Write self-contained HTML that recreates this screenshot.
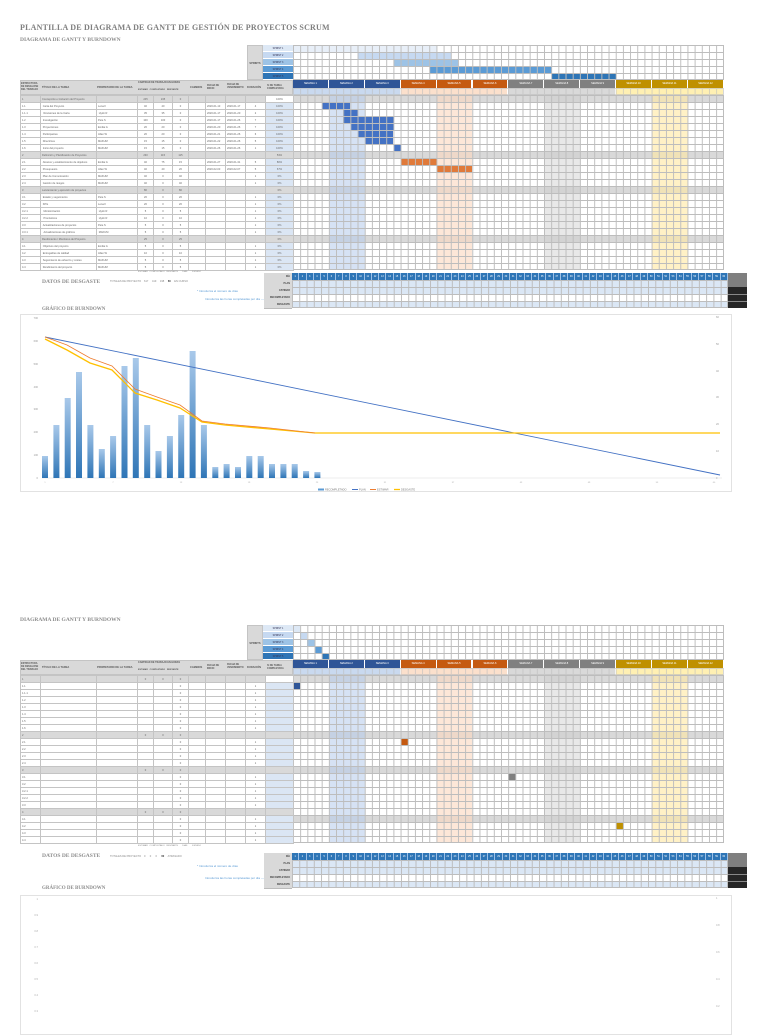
<!DOCTYPE html>
<html><head><meta charset="utf-8">
<style>
*{margin:0;padding:0;box-sizing:border-box}
body{width:768px;height:1024px;background:#fff;position:relative;overflow:hidden;font-family:"Liberation Sans",sans-serif;color:#555}
.abs{position:absolute}
.t1{font-family:"Liberation Serif",serif;font-weight:bold;color:#7f7f7f;font-size:8px;letter-spacing:.2px}
.t2{font-family:"Liberation Serif",serif;font-weight:bold;color:#8c8c8c;font-size:5.5px}
.grid{position:absolute;background-image:linear-gradient(to right,#bdbdbd 1px,transparent 1px),linear-gradient(to bottom,#bdbdbd 1px,transparent 1px);background-size:7.183px 7px;border-right:1px solid #bdbdbd;border-bottom:1px solid #bdbdbd}
table.lt{position:absolute;border-collapse:collapse;table-layout:fixed;font-size:2.6px;color:#666}
table.lt td{border:1px solid #c4c4c4;height:7px;padding:0 1px;white-space:nowrap;overflow:hidden;line-height:5px}
table.lt tr.s td{background:#d9d9d9}
table.lt td.p{background:#dbe6f4;text-align:center}
table.lt td.c{text-align:center}
.hdr{position:absolute;background:#d9d9d9;border:1px solid #c4c4c4;font-size:2.6px;color:#555;font-weight:bold}
.wk{position:absolute;height:8px;font-size:2.6px;color:#fff;text-align:center;line-height:8px;border-right:1px solid #fff}
.dy{position:absolute;height:7px;border-right:1px solid #fff}
.bar{position:absolute;height:7px}
.sh{position:absolute}
.spl{position:absolute;width:30px;height:7px;font-size:2.4px;text-align:center;line-height:7px;color:#335;border-bottom:1px solid #fff}
.dt{position:absolute;display:flex;height:7px}
.dt span{flex:1;font-size:2.4px;color:#fff;text-align:center;line-height:7px;border-right:1px solid #9cc0e8}
.lbl{position:absolute;background:#d9d9d9;font-size:2.4px;text-align:right;padding-right:2px;line-height:7px;color:#444;font-weight:bold;border-bottom:1px solid #bbb}
.note{position:absolute;font-size:3px;color:#5b9bd5}
</style></head><body>

<!-- ============ PAGE 1 ============ -->
<div class="abs t1" style="left:20px;top:23px">PLANTILLA DE DIAGRAMA DE GANTT DE GESTIÓN DE PROYECTOS SCRUM</div>
<div class="abs t2" style="left:20px;top:37px">DIAGRAMA DE GANTT Y BURNDOWN</div>

<!-- sprint block -->
<div class="hdr" style="left:247px;top:45px;width:16px;height:35px;line-height:35px;text-align:center">SPRINTS</div>
<div class="spl" style="left:263px;top:45px;background:#dde8f5">SPRINT 1</div>
<div class="spl" style="left:263px;top:52px;background:#c6d9f1">SPRINT 2</div>
<div class="spl" style="left:263px;top:59px;background:#9dc3e6">SPRINT 3</div>
<div class="spl" style="left:263px;top:66px;background:#5b9bd5">SPRINT 4</div>
<div class="spl" style="left:263px;top:73px;background:#2e75b6">SPRINT 5</div>
<div class="bar" style="left:293px;top:45px;width:143.7px;background:#e8eff8"></div>
<div class="bar" style="left:357.6px;top:52px;width:93.4px;background:#c6d9f1"></div>
<div class="bar" style="left:393.6px;top:59px;width:64.6px;background:#9dc3e6"></div>
<div class="bar" style="left:429.5px;top:66px;width:122.1px;background:#5b9bd5"></div>
<div class="bar" style="left:551.6px;top:73px;width:64.6px;background:#2e75b6"></div>
<div class="grid" style="left:293px;top:45px;width:431px;height:35px"></div>

<!-- left header -->
<div class="hdr" style="left:20px;top:80px;width:273px;height:15px"></div>
<div class="abs" style="left:21px;top:82px;font-size:2.4px;font-weight:bold;color:#555;line-height:3px">ESTRUCTURA<br>DE DESGLOSE<br>DEL TRABAJO</div>
<div class="abs" style="left:42px;top:86px;font-size:2.6px;font-weight:bold">TÍTULO DE LA TAREA</div>
<div class="abs" style="left:97px;top:86px;font-size:2.6px;font-weight:bold">PROPIETARIO DE LA TAREA</div>
<div class="abs" style="left:138px;top:81px;font-size:2.4px;font-weight:bold">CANTIDAD DE TRABAJO EN HORAS</div>
<div class="abs" style="left:138px;top:89px;font-size:2.2px;font-weight:bold">ESTIMAR &nbsp; COMPLETADO &nbsp; RESTANTE</div>
<div class="abs" style="left:190px;top:86px;font-size:2.6px;font-weight:bold">CAMBIOS</div>
<div class="abs" style="left:207px;top:84px;font-size:2.4px;font-weight:bold">FECHA DE<br>INICIO</div>
<div class="abs" style="left:227px;top:83px;font-size:2.4px;font-weight:bold">FECHA DE<br>VENCIMIENTO</div>
<div class="abs" style="left:247px;top:86px;font-size:2.6px;font-weight:bold">DURACIÓN</div>
<div class="abs" style="left:267px;top:84px;font-size:2.4px;font-weight:bold">% DE TAREA<br>COMPLETADA</div>

<!-- weeks -->
<div class="wk" style="left:293px;top:80px;width:35.9px;background:#2f5597">SEMANA 1</div>
<div class="wk" style="left:328.9px;top:80px;width:35.9px;background:#2f5597">SEMANA 2</div>
<div class="wk" style="left:364.8px;top:80px;width:35.9px;background:#2f5597">SEMANA 3</div>
<div class="wk" style="left:400.7px;top:80px;width:35.9px;background:#c55a11">SEMANA 4</div>
<div class="wk" style="left:436.6px;top:80px;width:35.9px;background:#c55a11">SEMANA 5</div>
<div class="wk" style="left:472.5px;top:80px;width:35.9px;background:#c55a11">SEMANA 6</div>
<div class="wk" style="left:508.4px;top:80px;width:35.9px;background:#808080">SEMANA 7</div>
<div class="wk" style="left:544.3px;top:80px;width:35.9px;background:#808080">SEMANA 8</div>
<div class="wk" style="left:580.2px;top:80px;width:35.9px;background:#808080">SEMANA 9</div>
<div class="wk" style="left:616.1px;top:80px;width:35.9px;background:#bf9000">SEMANA 10</div>
<div class="wk" style="left:652px;top:80px;width:35.9px;background:#bf9000">SEMANA 11</div>
<div class="wk" style="left:687.9px;top:80px;width:36.1px;background:#bf9000">SEMANA 12</div>
<div class="dy" style="left:293px;top:88px;width:107.7px;background:#c9d9ef"></div>
<div class="dy" style="left:400.7px;top:88px;width:107.7px;background:#fbe0cc"></div>
<div class="dy" style="left:508.4px;top:88px;width:107.7px;background:#d9d9d9"></div>
<div class="dy" style="left:616.1px;top:88px;width:107.9px;background:#fff0b3"></div>
<div class="grid" style="left:293px;top:88px;width:431px;height:7px;background-size:7.183px 7px;opacity:.6"></div>

<!-- gantt body shades -->
<div class="sh" style="left:293px;top:95px;width:431px;height:7px;background:#d9d9d9"></div>
<div class="sh" style="left:293px;top:151px;width:431px;height:7px;background:#d9d9d9"></div>
<div class="sh" style="left:293px;top:186px;width:431px;height:7px;background:#d9d9d9"></div>
<div class="sh" style="left:293px;top:235px;width:431px;height:7px;background:#d9d9d9"></div>
<div class="sh" style="left:328.9px;top:95px;width:35.9px;height:175px;background:rgba(180,202,235,.55)"></div>
<div class="sh" style="left:436.6px;top:95px;width:35.9px;height:175px;background:rgba(251,215,190,.6)"></div>
<div class="sh" style="left:544.3px;top:95px;width:35.9px;height:175px;background:rgba(205,205,205,.45)"></div>
<div class="sh" style="left:652px;top:95px;width:35.9px;height:175px;background:rgba(255,232,160,.6)"></div>
<!-- gantt bars -->
<div class="bar" style="left:321.7px;top:102px;width:28.7px;background:#4472c4"></div>
<div class="bar" style="left:343.3px;top:109px;width:14.4px;background:#4472c4"></div>
<div class="bar" style="left:343.3px;top:116px;width:50.3px;background:#4472c4"></div>
<div class="bar" style="left:350.5px;top:123px;width:43.1px;background:#4472c4"></div>
<div class="bar" style="left:357.6px;top:130px;width:35.9px;background:#4472c4"></div>
<div class="bar" style="left:364.8px;top:137px;width:28.7px;background:#4472c4"></div>
<div class="bar" style="left:393.6px;top:144px;width:7.2px;background:#4472c4"></div>
<div class="bar" style="left:400.7px;top:158px;width:35.9px;background:#e07a3a"></div>
<div class="bar" style="left:436.6px;top:165px;width:35.9px;background:#e07a3a"></div>
<div class="grid" style="left:293px;top:95px;width:431px;height:175px"></div>

<table class="lt" style="left:20px;top:95px;width:273px">
<colgroup><col style="width:20px"><col style="width:56px"><col style="width:41px"><col style="width:16px"><col style="width:19px"><col style="width:16px"><col style="width:17px"><col style="width:20px"><col style="width:20px"><col style="width:20px"><col style="width:28px"></colgroup>
<tr class="s"><td>1</td><td>Concepción e Iniciación del Proyecto</td><td></td><td class="c">245</td><td class="c">245</td><td class="c">0</td><td></td><td></td><td></td><td></td><td class="p" style="background:#fff">100%</td></tr>
<tr><td>1.1</td><td>&nbsp;Carta del Proyecto</td><td>Lena F</td><td class="c">40</td><td class="c">40</td><td class="c">0</td><td></td><td>2020-01-13</td><td>2020-01-17</td><td class="c">4</td><td class="p">100%</td></tr>
<tr><td>1.1.1</td><td>&nbsp;&nbsp;Revisiones de la Carta</td><td>&nbsp;Hydn R</td><td class="c">35</td><td class="c">35</td><td class="c">0</td><td></td><td>2020-01-17</td><td>2020-01-20</td><td class="c">2</td><td class="p">100%</td></tr>
<tr><td>1.2</td><td>&nbsp;Investigación</td><td>Pete S</td><td class="c">100</td><td class="c">100</td><td class="c">0</td><td></td><td>2020-01-17</td><td>2020-01-26</td><td class="c">7</td><td class="p">100%</td></tr>
<tr><td>1.3</td><td>&nbsp;Proyecciones</td><td>Emilia G</td><td class="c">20</td><td class="c">20</td><td class="c">0</td><td></td><td>2020-01-20</td><td>2020-01-26</td><td class="c">7</td><td class="p">100%</td></tr>
<tr><td>1.4</td><td>&nbsp;Participantes</td><td>Allan W</td><td class="c">20</td><td class="c">20</td><td class="c">0</td><td></td><td>2020-01-21</td><td>2020-01-26</td><td class="c">6</td><td class="p">100%</td></tr>
<tr><td>1.5</td><td>&nbsp;Directrices</td><td>MAKUM</td><td class="c">15</td><td class="c">15</td><td class="c">0</td><td></td><td>2020-01-22</td><td>2020-01-26</td><td class="c">5</td><td class="p">100%</td></tr>
<tr><td>1.6</td><td>&nbsp;Inicio del proyecto</td><td>MAKUM</td><td class="c">15</td><td class="c">15</td><td class="c">0</td><td></td><td>2020-01-26</td><td>2020-01-26</td><td class="c">1</td><td class="p">100%</td></tr>
<tr class="s"><td>2</td><td>Definición y Planificación de Proyectos</td><td></td><td class="c">230</td><td class="c">115</td><td class="c">115</td><td></td><td></td><td></td><td></td><td class="p">53%</td></tr>
<tr><td>2.1</td><td>&nbsp;Alcance y establecimiento de objetivos</td><td>Emilia G</td><td class="c">40</td><td class="c">75</td><td class="c">15</td><td></td><td>2020-01-27</td><td>2020-01-31</td><td class="c">5</td><td class="p">80%</td></tr>
<tr><td>2.2</td><td>&nbsp;Presupuesto</td><td>Allan W</td><td class="c">40</td><td class="c">40</td><td class="c">20</td><td></td><td>2020-02-03</td><td>2020-02-07</td><td class="c">5</td><td class="p">67%</td></tr>
<tr><td>2.3</td><td>&nbsp;Plan de Comunicación</td><td>MAKUM</td><td class="c">40</td><td class="c">0</td><td class="c">40</td><td></td><td></td><td></td><td class="c">1</td><td class="p">0%</td></tr>
<tr><td>2.4</td><td>&nbsp;Gestión de riesgos</td><td>MAKUM</td><td class="c">40</td><td class="c">0</td><td class="c">40</td><td></td><td></td><td></td><td class="c">1</td><td class="p">0%</td></tr>
<tr class="s"><td>3</td><td>Lanzamiento y ejecución de proyectos</td><td></td><td class="c">80</td><td class="c">0</td><td class="c">80</td><td></td><td></td><td></td><td></td><td class="p">0%</td></tr>
<tr><td>3.1</td><td>&nbsp;Estado y seguimiento</td><td>Pete S</td><td class="c">20</td><td class="c">0</td><td class="c">20</td><td></td><td></td><td></td><td class="c">1</td><td class="p">0%</td></tr>
<tr><td>3.2</td><td>&nbsp;KPIs</td><td>Lena F</td><td class="c">20</td><td class="c">0</td><td class="c">20</td><td></td><td></td><td></td><td class="c">1</td><td class="p">0%</td></tr>
<tr><td>3.2.1</td><td>&nbsp;&nbsp;Monitorización</td><td>&nbsp;Hydn R</td><td class="c">5</td><td class="c">0</td><td class="c">5</td><td></td><td></td><td></td><td class="c">1</td><td class="p">0%</td></tr>
<tr><td>3.2.2</td><td>&nbsp;&nbsp;Pronósticos</td><td>&nbsp;Hydn R</td><td class="c">10</td><td class="c">0</td><td class="c">10</td><td></td><td></td><td></td><td class="c">1</td><td class="p">0%</td></tr>
<tr><td>3.3</td><td>&nbsp;Actualizaciones de proyectos</td><td>Pete S</td><td class="c">5</td><td class="c">0</td><td class="c">5</td><td></td><td></td><td></td><td class="c">1</td><td class="p">0%</td></tr>
<tr><td>3.3.1</td><td>&nbsp;&nbsp;Actualizaciones de gráficos</td><td>&nbsp;MAKUM</td><td class="c">5</td><td class="c">0</td><td class="c">5</td><td></td><td></td><td></td><td class="c">1</td><td class="p">0%</td></tr>
<tr class="s"><td>4</td><td>Rendimiento / Monitoreo del Proyecto</td><td></td><td class="c">25</td><td class="c">0</td><td class="c">25</td><td></td><td></td><td></td><td></td><td class="p">0%</td></tr>
<tr><td>4.1</td><td>&nbsp;Objetivos del proyecto</td><td>Emilia G</td><td class="c">5</td><td class="c">0</td><td class="c">5</td><td></td><td></td><td></td><td class="c">1</td><td class="p">0%</td></tr>
<tr><td>4.2</td><td>&nbsp;Entregables de calidad</td><td>Allan W</td><td class="c">10</td><td class="c">0</td><td class="c">10</td><td></td><td></td><td></td><td class="c">1</td><td class="p">0%</td></tr>
<tr><td>4.3</td><td>&nbsp;Seguimiento de esfuerzo y costes</td><td>MAKUM</td><td class="c">5</td><td class="c">0</td><td class="c">5</td><td></td><td></td><td></td><td class="c">1</td><td class="p">0%</td></tr>
<tr><td>4.4</td><td>&nbsp;Rendimiento del proyecto</td><td>MAKUM</td><td class="c">5</td><td class="c">0</td><td class="c">5</td><td></td><td></td><td></td><td class="c">1</td><td class="p">0%</td></tr>
</table>

<div class="abs" style="left:138px;top:271px;font-size:2.2px;color:#888">ESTIMAR &nbsp; COMPLETADO &nbsp; RESTANTE &nbsp;&nbsp;&nbsp;&nbsp;&nbsp; DÍAS &nbsp;&nbsp;&nbsp;&nbsp;&nbsp;&nbsp; ESTADO</div>
<div class="abs t2" style="left:42px;top:279px;font-size:5.5px">DATOS DE DESGASTE</div>
<div class="abs" style="left:110px;top:280px;font-size:2.6px;color:#888">TOTALES DE PROYECTO &nbsp;&nbsp; 617 &nbsp;&nbsp;&nbsp; 419 &nbsp;&nbsp;&nbsp; 198 &nbsp;&nbsp;&nbsp; <b style="color:#333">60</b> &nbsp;&nbsp;&nbsp; EN CURSO</div>
<div class="note" style="left:197px;top:289px">* Introduzca el número de días</div>
<div class="note" style="left:205px;top:297px">Introduzca las horas completadas por día ---</div>

<!-- burndown data table page 1 -->
<div class="lbl" style="left:264px;top:273px;width:28px">DÍA</div>
<div class="lbl" style="left:264px;top:280px;width:28px">PLAN</div>
<div class="lbl" style="left:264px;top:287px;width:28px">ESTIMAR</div>
<div class="lbl" style="left:264px;top:294px;width:28px">RECOMPLETADO</div>
<div class="lbl" style="left:264px;top:301px;width:28px">DESGASTE</div>
<div class="dt" style="left:292px;top:273px;width:436px;background:#2e75b6"><span>1</span><span>2</span><span>3</span><span>4</span><span>5</span><span>6</span><span>7</span><span>8</span><span>9</span><span>10</span><span>11</span><span>12</span><span>13</span><span>14</span><span>15</span><span>16</span><span>17</span><span>18</span><span>19</span><span>20</span><span>21</span><span>22</span><span>23</span><span>24</span><span>25</span><span>26</span><span>27</span><span>28</span><span>29</span><span>30</span><span>31</span><span>32</span><span>33</span><span>34</span><span>35</span><span>36</span><span>37</span><span>38</span><span>39</span><span>40</span><span>41</span><span>42</span><span>43</span><span>44</span><span>45</span><span>46</span><span>47</span><span>48</span><span>49</span><span>50</span><span>51</span><span>52</span><span>53</span><span>54</span><span>55</span><span>56</span><span>57</span><span>58</span><span>59</span><span>60</span></div>
<div class="sh" style="left:292px;top:280px;width:436px;height:14px;background:#dbe7f5"></div>
<div class="sh" style="left:292px;top:301px;width:436px;height:7px;background:#dbe7f5"></div>
<div class="grid" style="left:292px;top:280px;width:436px;height:28px;background-size:7.267px 7px"></div>
<div class="sh" style="left:728px;top:273px;width:19px;height:14px;background:#7f7f7f"></div>
<div class="sh" style="left:728px;top:287px;width:19px;height:21px;background:#262626"></div>
<div class="sh" style="left:728px;top:294px;width:19px;height:1px;background:#888"></div>
<div class="sh" style="left:728px;top:301px;width:19px;height:1px;background:#888"></div>

<div class="abs t2" style="left:42px;top:307px;font-size:5px">GRÁFICO DE BURNDOWN</div>
<div class="sh" style="left:20px;top:314px;width:712px;height:178px;border:1px solid #e2e2e2"></div>

<!-- ============ PAGE 2 ============ -->
<div class="abs t2" style="left:20px;top:617px">DIAGRAMA DE GANTT Y BURNDOWN</div>
<div class="hdr" style="left:247px;top:625px;width:16px;height:35px;line-height:35px;text-align:center">SPRINTS</div>
<div class="spl" style="left:263px;top:625px;background:#dde8f5">SPRINT 1</div>
<div class="spl" style="left:263px;top:632px;background:#c6d9f1">SPRINT 2</div>
<div class="spl" style="left:263px;top:639px;background:#9dc3e6">SPRINT 3</div>
<div class="spl" style="left:263px;top:646px;background:#5b9bd5">SPRINT 4</div>
<div class="spl" style="left:263px;top:653px;background:#2e75b6">SPRINT 5</div>
<div class="bar" style="left:293px;top:625px;width:7.2px;background:#dde8f5"></div>
<div class="bar" style="left:300.2px;top:632px;width:7.2px;background:#c6d9f1"></div>
<div class="bar" style="left:307.4px;top:639px;width:7.2px;background:#9dc3e6"></div>
<div class="bar" style="left:314.5px;top:646px;width:7.2px;background:#5b9bd5"></div>
<div class="bar" style="left:321.7px;top:653px;width:7.2px;background:#2e75b6"></div>
<div class="grid" style="left:293px;top:625px;width:431px;height:35px"></div>

<div class="hdr" style="left:20px;top:660px;width:273px;height:15px"></div>
<div class="abs" style="left:21px;top:662px;font-size:2.4px;font-weight:bold;color:#555;line-height:3px">ESTRUCTURA<br>DE DESGLOSE<br>DEL TRABAJO</div>
<div class="abs" style="left:42px;top:666px;font-size:2.6px;font-weight:bold">TÍTULO DE LA TAREA</div>
<div class="abs" style="left:97px;top:666px;font-size:2.6px;font-weight:bold">PROPIETARIO DE LA TAREA</div>
<div class="abs" style="left:138px;top:661px;font-size:2.4px;font-weight:bold">CANTIDAD DE TRABAJO EN HORAS</div>
<div class="abs" style="left:138px;top:669px;font-size:2.2px;font-weight:bold">ESTIMAR &nbsp; COMPLETADO &nbsp; RESTANTE</div>
<div class="abs" style="left:190px;top:666px;font-size:2.6px;font-weight:bold">CAMBIOS</div>
<div class="abs" style="left:207px;top:664px;font-size:2.4px;font-weight:bold">FECHA DE<br>INICIO</div>
<div class="abs" style="left:227px;top:663px;font-size:2.4px;font-weight:bold">FECHA DE<br>VENCIMIENTO</div>
<div class="abs" style="left:247px;top:666px;font-size:2.6px;font-weight:bold">DURACIÓN</div>
<div class="abs" style="left:267px;top:664px;font-size:2.4px;font-weight:bold">% DE TAREA<br>COMPLETADA</div>

<div class="wk" style="left:293px;top:660px;width:35.9px;background:#2f5597">SEMANA 1</div>
<div class="wk" style="left:328.9px;top:660px;width:35.9px;background:#2f5597">SEMANA 2</div>
<div class="wk" style="left:364.8px;top:660px;width:35.9px;background:#2f5597">SEMANA 3</div>
<div class="wk" style="left:400.7px;top:660px;width:35.9px;background:#c55a11">SEMANA 4</div>
<div class="wk" style="left:436.6px;top:660px;width:35.9px;background:#c55a11">SEMANA 5</div>
<div class="wk" style="left:472.5px;top:660px;width:35.9px;background:#c55a11">SEMANA 6</div>
<div class="wk" style="left:508.4px;top:660px;width:35.9px;background:#808080">SEMANA 7</div>
<div class="wk" style="left:544.3px;top:660px;width:35.9px;background:#808080">SEMANA 8</div>
<div class="wk" style="left:580.2px;top:660px;width:35.9px;background:#808080">SEMANA 9</div>
<div class="wk" style="left:616.1px;top:660px;width:35.9px;background:#bf9000">SEMANA 10</div>
<div class="wk" style="left:652px;top:660px;width:35.9px;background:#bf9000">SEMANA 11</div>
<div class="wk" style="left:687.9px;top:660px;width:36.1px;background:#bf9000">SEMANA 12</div>
<div class="dy" style="left:293px;top:668px;width:107.7px;background:#c9d9ef"></div>
<div class="dy" style="left:400.7px;top:668px;width:107.7px;background:#fbe0cc"></div>
<div class="dy" style="left:508.4px;top:668px;width:107.7px;background:#d9d9d9"></div>
<div class="dy" style="left:616.1px;top:668px;width:107.9px;background:#fff0b3"></div>
<div class="grid" style="left:293px;top:668px;width:431px;height:7px;opacity:.6"></div>

<div class="sh" style="left:293px;top:675px;width:431px;height:7px;background:#d9d9d9"></div>
<div class="sh" style="left:293px;top:731px;width:431px;height:7px;background:#d9d9d9"></div>
<div class="sh" style="left:293px;top:766px;width:431px;height:7px;background:#d9d9d9"></div>
<div class="sh" style="left:293px;top:815px;width:431px;height:7px;background:#d9d9d9"></div>
<div class="sh" style="left:328.9px;top:675px;width:35.9px;height:168px;background:rgba(180,202,235,.55)"></div>
<div class="sh" style="left:436.6px;top:675px;width:35.9px;height:168px;background:rgba(251,215,190,.6)"></div>
<div class="sh" style="left:544.3px;top:675px;width:35.9px;height:168px;background:rgba(205,205,205,.45)"></div>
<div class="sh" style="left:652px;top:675px;width:35.9px;height:168px;background:rgba(255,232,160,.6)"></div>
<div class="bar" style="left:293px;top:682px;width:7.2px;background:#2f5597"></div>
<div class="bar" style="left:400.7px;top:738px;width:7.2px;background:#c55a11"></div>
<div class="bar" style="left:508.4px;top:773px;width:7.2px;background:#808080"></div>
<div class="bar" style="left:616.1px;top:822px;width:7.2px;background:#bf9000"></div>
<div class="grid" style="left:293px;top:675px;width:431px;height:168px"></div>

<table class="lt" style="left:20px;top:675px;width:273px">
<colgroup><col style="width:20px"><col style="width:56px"><col style="width:41px"><col style="width:16px"><col style="width:19px"><col style="width:16px"><col style="width:17px"><col style="width:20px"><col style="width:20px"><col style="width:20px"><col style="width:28px"></colgroup>
<tr class="s"><td>1</td><td></td><td></td><td class="c">0</td><td class="c">0</td><td class="c">0</td><td></td><td></td><td></td><td></td><td class="p" style="background:#fff"></td></tr>
<tr><td>1.1</td><td></td><td></td><td></td><td></td><td class="c">0</td><td></td><td></td><td></td><td class="c">1</td><td class="p"></td></tr>
<tr><td>1.1.1</td><td></td><td></td><td></td><td></td><td class="c">0</td><td></td><td></td><td></td><td class="c">1</td><td class="p"></td></tr>
<tr><td>1.2</td><td></td><td></td><td></td><td></td><td class="c">0</td><td></td><td></td><td></td><td class="c">1</td><td class="p"></td></tr>
<tr><td>1.3</td><td></td><td></td><td></td><td></td><td class="c">0</td><td></td><td></td><td></td><td class="c">1</td><td class="p"></td></tr>
<tr><td>1.4</td><td></td><td></td><td></td><td></td><td class="c">0</td><td></td><td></td><td></td><td class="c">1</td><td class="p"></td></tr>
<tr><td>1.5</td><td></td><td></td><td></td><td></td><td class="c">0</td><td></td><td></td><td></td><td class="c">1</td><td class="p"></td></tr>
<tr><td>1.6</td><td></td><td></td><td></td><td></td><td class="c">0</td><td></td><td></td><td></td><td class="c">1</td><td class="p"></td></tr>
<tr class="s"><td>2</td><td></td><td></td><td class="c">0</td><td class="c">0</td><td class="c">0</td><td></td><td></td><td></td><td></td><td class="p"></td></tr>
<tr><td>2.1</td><td></td><td></td><td></td><td></td><td class="c">0</td><td></td><td></td><td></td><td class="c">1</td><td class="p"></td></tr>
<tr><td>2.2</td><td></td><td></td><td></td><td></td><td class="c">0</td><td></td><td></td><td></td><td class="c">1</td><td class="p"></td></tr>
<tr><td>2.3</td><td></td><td></td><td></td><td></td><td class="c">0</td><td></td><td></td><td></td><td class="c">1</td><td class="p"></td></tr>
<tr><td>2.4</td><td></td><td></td><td></td><td></td><td class="c">0</td><td></td><td></td><td></td><td class="c">1</td><td class="p"></td></tr>
<tr class="s"><td>3</td><td></td><td></td><td class="c">0</td><td class="c">0</td><td class="c">0</td><td></td><td></td><td></td><td></td><td class="p"></td></tr>
<tr><td>3.1</td><td></td><td></td><td></td><td></td><td class="c">0</td><td></td><td></td><td></td><td class="c">1</td><td class="p"></td></tr>
<tr><td>3.2</td><td></td><td></td><td></td><td></td><td class="c">0</td><td></td><td></td><td></td><td class="c">1</td><td class="p"></td></tr>
<tr><td>3.2.1</td><td></td><td></td><td></td><td></td><td class="c">0</td><td></td><td></td><td></td><td class="c">1</td><td class="p"></td></tr>
<tr><td>3.2.2</td><td></td><td></td><td></td><td></td><td class="c">0</td><td></td><td></td><td></td><td class="c">1</td><td class="p"></td></tr>
<tr><td>3.3</td><td></td><td></td><td></td><td></td><td class="c">0</td><td></td><td></td><td></td><td class="c">1</td><td class="p"></td></tr>
<tr class="s"><td>4</td><td></td><td></td><td class="c">0</td><td class="c">0</td><td class="c">0</td><td></td><td></td><td></td><td></td><td class="p"></td></tr>
<tr><td>4.1</td><td></td><td></td><td></td><td></td><td class="c">0</td><td></td><td></td><td></td><td class="c">1</td><td class="p"></td></tr>
<tr><td>4.2</td><td></td><td></td><td></td><td></td><td class="c">0</td><td></td><td></td><td></td><td class="c">1</td><td class="p"></td></tr>
<tr><td>4.3</td><td></td><td></td><td></td><td></td><td class="c">0</td><td></td><td></td><td></td><td class="c">1</td><td class="p"></td></tr>
<tr><td>4.4</td><td></td><td></td><td></td><td></td><td class="c">0</td><td></td><td></td><td></td><td class="c">1</td><td class="p"></td></tr>
</table>

<div class="abs" style="left:138px;top:845px;font-size:2.2px;color:#888">ESTIMAR &nbsp; COMPLETADO &nbsp; RESTANTE &nbsp;&nbsp;&nbsp;&nbsp;&nbsp; DÍAS &nbsp;&nbsp;&nbsp;&nbsp;&nbsp;&nbsp; ESTADO</div>
<div class="abs t2" style="left:42px;top:853px;font-size:5.5px">DATOS DE DESGASTE</div>
<div class="abs" style="left:110px;top:855px;font-size:2.6px;color:#888">TOTALES DE PROYECTO &nbsp;&nbsp; 0 &nbsp;&nbsp;&nbsp;&nbsp; 0 &nbsp;&nbsp;&nbsp;&nbsp; 0 &nbsp;&nbsp;&nbsp;&nbsp; <b style="color:#333">60</b> &nbsp;&nbsp;&nbsp; ATRASADO</div>
<div class="note" style="left:197px;top:864px">* Introduzca el número de días</div>
<div class="note" style="left:205px;top:876px">Introduzca las horas completadas por día ---</div>

<div class="lbl" style="left:264px;top:853px;width:28px">DÍA</div>
<div class="lbl" style="left:264px;top:860px;width:28px">PLAN</div>
<div class="lbl" style="left:264px;top:867px;width:28px">ESTIMAR</div>
<div class="lbl" style="left:264px;top:874px;width:28px">RECOMPLETADO</div>
<div class="lbl" style="left:264px;top:881px;width:28px">DESGASTE</div>
<div class="dt" style="left:292px;top:853px;width:436px;background:#2e75b6"><span>1</span><span>2</span><span>3</span><span>4</span><span>5</span><span>6</span><span>7</span><span>8</span><span>9</span><span>10</span><span>11</span><span>12</span><span>13</span><span>14</span><span>15</span><span>16</span><span>17</span><span>18</span><span>19</span><span>20</span><span>21</span><span>22</span><span>23</span><span>24</span><span>25</span><span>26</span><span>27</span><span>28</span><span>29</span><span>30</span><span>31</span><span>32</span><span>33</span><span>34</span><span>35</span><span>36</span><span>37</span><span>38</span><span>39</span><span>40</span><span>41</span><span>42</span><span>43</span><span>44</span><span>45</span><span>46</span><span>47</span><span>48</span><span>49</span><span>50</span><span>51</span><span>52</span><span>53</span><span>54</span><span>55</span><span>56</span><span>57</span><span>58</span><span>59</span><span>60</span></div>
<div class="sh" style="left:292px;top:860px;width:436px;height:14px;background:#dbe7f5"></div>
<div class="sh" style="left:292px;top:881px;width:436px;height:7px;background:#dbe7f5"></div>
<div class="grid" style="left:292px;top:860px;width:436px;height:28px;background-size:7.267px 7px"></div>
<div class="sh" style="left:728px;top:853px;width:19px;height:14px;background:#7f7f7f"></div>
<div class="sh" style="left:728px;top:867px;width:19px;height:21px;background:#262626"></div>
<div class="sh" style="left:728px;top:874px;width:19px;height:1px;background:#888"></div>
<div class="sh" style="left:728px;top:881px;width:19px;height:1px;background:#888"></div>

<div class="abs t2" style="left:42px;top:886px;font-size:5px">GRÁFICO DE BURNDOWN</div>
<div class="sh" style="left:20px;top:895px;width:712px;height:140px;border:1px solid #e2e2e2"></div>

<!-- ============ CHARTS SVG ============ -->
<svg class="abs" style="left:0;top:0" width="768" height="1024" viewBox="0 0 768 1024" font-family="Liberation Sans, sans-serif">
<defs><linearGradient id="bg" x1="0" y1="0" x2="0" y2="1"><stop offset="0" stop-color="#a9c9ea"/><stop offset="1" stop-color="#2e75b6"/></linearGradient></defs>
<g fill="#999" font-size="2.6" text-anchor="end">
<text x="38" y="479">0</text><text x="38" y="456">100</text><text x="38" y="433">200</text><text x="38" y="410">300</text><text x="38" y="388">400</text><text x="38" y="365">500</text><text x="38" y="342">600</text><text x="38" y="319">700</text>
</g>
<g fill="#999" font-size="2.6"><text x="716" y="479">0</text><text x="716" y="452">10</text><text x="716" y="425">20</text><text x="716" y="398">30</text><text x="716" y="372">40</text><text x="716" y="345">50</text><text x="716" y="318">60</text></g>
<line x1="42" y1="478" x2="722" y2="478" stroke="#ddd" stroke-width="0.6"/>
<g fill="url(#bg)">
<rect x="42" y="456" width="6" height="22"/><rect x="53.4" y="425" width="6" height="53"/><rect x="64.7" y="398" width="6" height="80"/><rect x="76" y="372" width="6" height="106"/><rect x="87.4" y="425" width="6" height="53"/><rect x="98.8" y="449" width="6" height="29"/><rect x="110.1" y="436" width="6" height="42"/><rect x="121.5" y="366" width="6" height="112"/><rect x="132.8" y="358" width="6" height="120"/><rect x="144.2" y="425" width="6" height="53"/><rect x="155.5" y="451" width="6" height="27"/><rect x="166.9" y="436" width="6" height="42"/><rect x="178.2" y="415" width="6" height="63"/><rect x="189.6" y="351" width="6" height="127"/><rect x="200.9" y="425" width="6" height="53"/><rect x="212.3" y="467" width="6" height="11"/><rect x="223.6" y="464" width="6" height="14"/><rect x="235" y="467" width="6" height="11"/><rect x="246.3" y="456" width="6" height="22"/><rect x="257.7" y="456" width="6" height="22"/><rect x="269" y="464" width="6" height="14"/><rect x="280.4" y="464" width="6" height="14"/><rect x="291.7" y="464" width="6" height="14"/><rect x="303.1" y="471" width="6" height="7"/><rect x="314.4" y="472" width="6" height="6"/>
</g>
<line x1="45" y1="337" x2="720" y2="475" stroke="#4472c4" stroke-width="0.9"/>
<polyline fill="none" stroke="#ffc000" stroke-width="1.3" points="45,339 67,350 90,363 112,370 135,393 157,400 180,408 202,422 225,425 270,429 315,433 720,433"/>
<polyline fill="none" stroke="#ed7d31" stroke-width="0.8" points="45,337 67,345 90,358 112,366 135,389 157,397 180,405 202,421 225,424 270,428 315,433"/>
<g fill="#aaa" font-size="2.2" text-anchor="middle">
<text x="45" y="483">1</text><text x="113" y="483">7</text><text x="181" y="483">13</text><text x="249" y="483">19</text><text x="317" y="483">25</text><text x="385" y="483">31</text><text x="453" y="483">37</text><text x="521" y="483">43</text><text x="589" y="483">49</text><text x="657" y="483">55</text><text x="714" y="483">60</text>
</g>
<g font-size="2.6" fill="#777">
<rect x="318" y="488.5" width="6" height="2" fill="#5b9bd5"/><text x="325" y="490.6">RECOMPLETADO</text>
<line x1="352" y1="489.5" x2="358" y2="489.5" stroke="#4472c4"/><text x="359" y="490.6">PLAN</text>
<line x1="370" y1="489.5" x2="376" y2="489.5" stroke="#ed7d31"/><text x="377" y="490.6">ESTIMAR</text>
<line x1="394" y1="489.5" x2="400" y2="489.5" stroke="#ffc000" stroke-width="1.3"/><text x="401" y="490.6">DESGASTE</text>
</g>
<!-- page 2 axes -->
<g fill="#aaa" font-size="2.6" text-anchor="end">
<text x="38" y="900">1</text><text x="38" y="916">0.9</text><text x="38" y="932">0.8</text><text x="38" y="948">0.7</text><text x="38" y="964">0.6</text><text x="38" y="980">0.5</text><text x="38" y="996">0.4</text><text x="38" y="1012">0.3</text>
</g>
<g fill="#aaa" font-size="2.6"><text x="716" y="899">1</text><text x="716" y="926">0.8</text><text x="716" y="953">0.6</text><text x="716" y="980">0.4</text><text x="716" y="1007">0.2</text></g>
</svg>
</body></html>
